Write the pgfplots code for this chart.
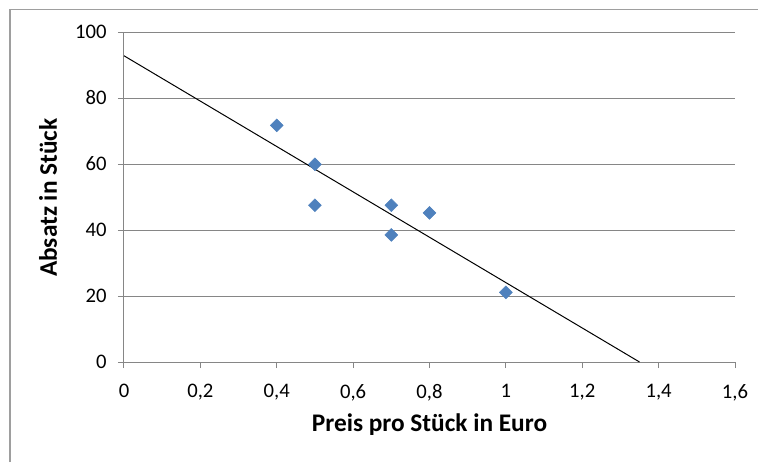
\documentclass[border=0pt]{standalone}
\usepackage{pgfplots}
\pgfplotsset{compat=1.18}
\usepackage{fontspec}
\setmainfont{Carlito}
\definecolor{gridc}{HTML}{868686}
\definecolor{ptc}{HTML}{4F81BD}
\begin{document}
\begin{tikzpicture}
\path[use as bounding box] (0,0) rectangle (568.5pt,-346.5pt);
\draw[gridc!80, line width=0.9pt] (7.5pt,-346.5pt) -- (7.5pt,-6.9pt) -- (568.5pt,-6.9pt);
\begin{axis}[
  at={(93pt,-271.5pt)}, anchor=south west,
  scale only axis, width=458.25pt, height=247.5pt,
  xmin=0, xmax=1.6, ymin=0, ymax=100,
  xtick={0,0.2,...,1.6}, ytick={0,20,...,100},
  axis x line*=bottom, axis y line*=left,
  axis line style={gridc, line width=0.75pt, -},
  ymajorgrids, grid style={gridc, line width=0.75pt},
  tick align=outside, major tick length=4.5pt,
  tick style={gridc, line width=0.75pt},
  ticklabel style={font=\fontsize{15.5}{17}\selectfont, text=black},
  /pgf/number format/assume math mode=true,
  xticklabel style={/pgf/number format/fixed, /pgf/number format/use comma, yshift=-8.5pt},
  yticklabel style={xshift=-5pt},
  xlabel={Preis pro Stück in Euro},
  ylabel={Absatz in Stück},
  label style={font=\fontsize{19}{21}\selectfont\bfseries},
  xlabel style={at={(axis description cs:0.5,-0.191)}, anchor=center},
  ylabel style={at={(axis description cs:-0.1244,0.498)}, anchor=center, rotate=0},
  clip=false,
]
\addplot[black, line width=0.75pt] coordinates {(0,92.8) (1.35,0)};
\addplot[only marks, mark=square*, mark size=3.4pt, mark options={rotate=45, fill=ptc, draw=ptc}] coordinates {
(0.4,71.7) (0.5,59.9) (0.5,47.5) (0.7,47.5) (0.7,38.5) (0.8,45.2) (1.0,21.1)};
\end{axis}
\end{tikzpicture}
\end{document}
